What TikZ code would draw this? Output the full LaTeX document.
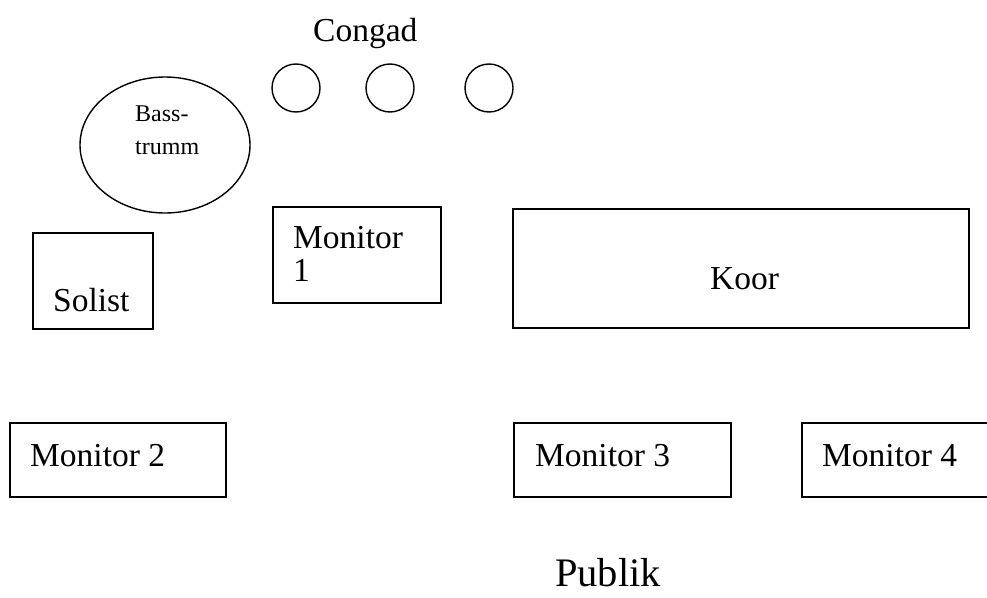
\documentclass[tikz,border=0pt]{standalone}
\usepackage{fontspec}
\setmainfont{Liberation Serif}
\usetikzlibrary{shapes.geometric}
\begin{document}
\begin{tikzpicture}[x=1pt,y=-1pt,
  box/.style={draw,line width=1.6pt,rectangle,inner sep=0pt},
  drum/.style={draw,line width=1.4pt,circle,inner sep=0pt,minimum size=48pt},
  lbl/.style={font=\fontsize{33.5}{36}\selectfont,inner sep=0pt,anchor=base west},
  small/.style={font=\fontsize{24}{33}\selectfont,inner sep=0pt,anchor=base west}]
\useasboundingbox (0,0) rectangle (987,597);
% Congas
\node[lbl] (congtxt) at (313,41) {Congad};
\node[drum] (c1) at (296,88) {};
\node[drum] (c2) at (390,88) {};
\node[drum] (c3) at (489,88) {};
% Bass drum
\node[draw,line width=1.4pt,ellipse,minimum width=170pt,minimum height=136pt,inner sep=0pt] (bass) at (165,145) {};
\node[small] (basst1) at (135,121) {Bass-};
\node[small] (basst2) at (135,154) {trumm};
% Solist
\node[box,minimum width=120pt,minimum height=96pt] (sol) at (93,281) {};
\node[lbl] (soltxt) at (53,311) {Solist};
% Monitor 1
\node[box,minimum width=168pt,minimum height=96pt] (m1) at (357,255) {};
\node[lbl] (m1a) at (293,248) {Monitor};
\node[lbl] (m1b) at (293,281) {1};
% Koor
\node[box,minimum width=456pt,minimum height=119pt] (koor) at (741,268.5) {};
\node[lbl] (koortxt) at (710,289) {Koor};
% Monitors 2-4
\node[box,minimum width=216pt,minimum height=74pt] (m2) at (118,460) {};
\node[lbl] (m2t) at (30,466) {Monitor 2};
\node[box,minimum width=217pt,minimum height=74pt] (m3) at (622.5,460) {};
\node[lbl] (m3t) at (535,466) {Monitor 3};
\node[box,minimum width=190pt,minimum height=74pt] (m4) at (897,460) {};
\node[lbl] (m4t) at (822,466) {Monitor 4};
% Publik
\node[font=\fontsize{40.5}{44}\selectfont,inner sep=0pt,anchor=base west] (pub) at (555,586) {Publik};
\end{tikzpicture}
\end{document}
